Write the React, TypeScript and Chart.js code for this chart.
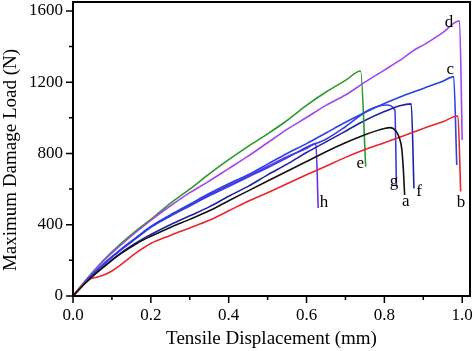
import { useEffect, useRef } from 'react';
import { Chart, registerables } from 'chart.js';

Chart.register(...registerables);

// ---- data (Tensile displacement in mm, maximum damage load in N) ----
const aX = [0, 0.04, 0.079, 0.121, 0.164, 0.2, 0.25, 0.3, 0.35, 0.4, 0.45, 0.5, 0.55, 0.6, 0.65, 0.7, 0.75, 0.8, 0.815, 0.83, 0.838, 0.845, 0.849, 0.852];
const aY = [0, 90, 163, 235, 295, 335, 385, 430, 478, 535, 590, 645, 700, 755, 810, 860, 905, 940, 945, 925, 890, 820, 700, 567];

const bX = [0, 0.02, 0.044, 0.06, 0.079, 0.1, 0.121, 0.164, 0.2, 0.25, 0.3, 0.35, 0.4, 0.45, 0.5, 0.55, 0.6, 0.65, 0.7, 0.75, 0.8, 0.85, 0.9, 0.95, 0.989, 0.996];
const bY = [0, 50, 95, 105, 118, 140, 172, 245, 295, 340, 382, 425, 478, 532, 580, 630, 680, 728, 778, 822, 860, 900, 940, 978, 1010, 586];

const cX = [0, 0.04, 0.079, 0.121, 0.164, 0.2, 0.25, 0.3, 0.35, 0.4, 0.45, 0.5, 0.55, 0.6, 0.65, 0.7, 0.75, 0.8, 0.85, 0.9, 0.95, 0.978, 0.986];
const cY = [0, 100, 180, 258, 330, 390, 455, 515, 575, 630, 680, 740, 800, 855, 915, 975, 1030, 1080, 1125, 1165, 1205, 1231, 735];

const dX = [0, 0.044, 0.079, 0.121, 0.164, 0.2, 0.25, 0.3, 0.35, 0.4, 0.45, 0.5, 0.55, 0.6, 0.65, 0.7, 0.75, 0.8, 0.85, 0.88, 0.9, 0.95, 0.993, 1.0];
const dY = [0, 115, 198, 282, 362, 425, 505, 580, 645, 715, 785, 860, 935, 1002, 1070, 1128, 1200, 1268, 1338, 1385, 1408, 1478, 1545, 876];

const eX = [0, 0.02, 0.044, 0.079, 0.121, 0.164, 0.2, 0.25, 0.3, 0.35, 0.4, 0.45, 0.5, 0.55, 0.6, 0.65, 0.7, 0.739, 0.752];
const eY = [0, 55, 118, 202, 290, 370, 430, 520, 600, 685, 765, 840, 910, 985, 1070, 1145, 1210, 1263, 726];

const fX = [0, 0.04, 0.079, 0.121, 0.164, 0.2, 0.25, 0.3, 0.35, 0.4, 0.45, 0.5, 0.55, 0.6, 0.65, 0.7, 0.75, 0.8, 0.84, 0.869, 0.876];
const fY = [0, 92, 165, 238, 300, 345, 400, 450, 500, 560, 615, 680, 740, 805, 865, 925, 985, 1035, 1068, 1078, 604];

const gX = [0, 0.04, 0.079, 0.121, 0.164, 0.2, 0.25, 0.3, 0.35, 0.4, 0.45, 0.5, 0.55, 0.6, 0.65, 0.7, 0.76, 0.805, 0.827, 0.831];
const gY = [0, 98, 178, 255, 326, 385, 448, 505, 562, 615, 668, 720, 775, 835, 880, 950, 1044, 1072, 1044, 614];

const hX = [0, 0.04, 0.079, 0.121, 0.164, 0.2, 0.25, 0.3, 0.35, 0.4, 0.45, 0.5, 0.55, 0.6, 0.624, 0.63];
const hY = [0, 100, 182, 257, 330, 388, 452, 510, 568, 622, 672, 728, 782, 828, 855, 494];

// curve labels, placed in data units
const labelText = ['a', 'b', 'c', 'd', 'e', 'f', 'g', 'h'];
const labelX = [0.855, 0.997, 0.969, 0.966, 0.738, 0.889, 0.825, 0.645];
const labelY = [505, 497, 1245, 1507, 716, 561, 617, 497];

// axis ticks
const xMajorTicks = [0, 0.2, 0.4, 0.6, 0.8, 1.0];
const xMinorTicks = [0.1, 0.3, 0.5, 0.7, 0.9];
const yMajorTicks = [0, 400, 800, 1200, 1600];
const yMinorTicks = [200, 600, 1000, 1400];

const xTitle = 'Tensile Displacement (mm)';
const yTitle = 'Maximum Damage Load (N)';

const SERIF = '"Liberation Serif", "DejaVu Serif", serif';

const seriesDefs = [
  { name: 'a', xs: aX, ys: aY, color: '#111111' },
  { name: 'b', xs: bX, ys: bY, color: '#E8262B' },
  { name: 'c', xs: cX, ys: cY, color: '#2743E8' },
  { name: 'd', xs: dX, ys: dY, color: '#A346EE' },
  { name: 'e', xs: eX, ys: eY, color: '#2A9A2A' },
  { name: 'f', xs: fX, ys: fY, color: '#1E22A4' },
  { name: 'g', xs: gX, ys: gY, color: '#3B3BE6' },
  { name: 'h', xs: hX, ys: hY, color: '#6A32EA' },
];

const framePlugin = {
  id: 'frame',
  afterDraw(chart: any) {
    const { ctx, chartArea, scales } = chart;
    const { left, right, top, bottom } = chartArea;
    const xs = scales.x;
    const ys = scales.y;
    ctx.save();
    ctx.strokeStyle = '#000';
    ctx.lineWidth = 2;
    ctx.strokeRect(left, top, right - left, bottom - top);
    ctx.lineWidth = 1.5;
    ctx.beginPath();
    const tick = (vals: number[], len: number, isX: boolean) => {
      vals.forEach((v) => {
        if (isX) {
          const p = xs.getPixelForValue(v);
          ctx.moveTo(p, bottom);
          ctx.lineTo(p, bottom + len);
        } else {
          const p = ys.getPixelForValue(v);
          ctx.moveTo(left, p);
          ctx.lineTo(left - len, p);
        }
      });
    };
    tick(xMajorTicks, 7, true);
    tick(xMinorTicks, 4, true);
    tick(yMajorTicks, 7, false);
    tick(yMinorTicks, 4, false);
    ctx.stroke();

    // curve labels
    ctx.fillStyle = '#000';
    ctx.font = `17px ${SERIF}`;
    ctx.textAlign = 'center';
    ctx.textBaseline = 'alphabetic';
    labelText.forEach((t, i) => {
      ctx.fillText(t, xs.getPixelForValue(labelX[i]), ys.getPixelForValue(labelY[i]));
    });

    // axis titles
    ctx.font = `19px ${SERIF}`;
    ctx.textBaseline = 'middle';
    ctx.fillText(xTitle, (left + right) / 2, 339);
    ctx.translate(11, 160);
    ctx.rotate(-Math.PI / 2);
    ctx.fillText(yTitle, 0, 0);
    ctx.restore();
  },
};

export default function App() {
  const ref = useRef<HTMLCanvasElement | null>(null);
  useEffect(() => {
    if (!ref.current) return;
    const chart = new Chart(ref.current, {
      type: 'line',
      data: {
        datasets: seriesDefs.map((s) => ({
          label: s.name,
          data: s.xs.map((x, i) => ({ x, y: s.ys[i] })),
          borderColor: s.color,
          backgroundColor: s.color,
          borderWidth: 1.6,
          pointRadius: 0,
          cubicInterpolationMode: 'monotone' as const,
          fill: false,
        })),
      },
      options: {
        animation: false,
        responsive: false,
        devicePixelRatio: 1,
        layout: { padding: { left: 0, right: 4, top: 2, bottom: 0 } },
        plugins: { legend: { display: false }, tooltip: { enabled: false } },
        scales: {
          x: {
            type: 'linear',
            min: 0,
            max: 1.02,
            grid: { display: false, drawTicks: false },
            border: { display: false },
            afterBuildTicks: (s: any) => {
              s.ticks = xMajorTicks.map((value) => ({ value }));
            },
            ticks: {
              padding: 9,
              color: '#000',
              font: { family: SERIF, size: 17 },
              callback: (v: any) => Number(v).toFixed(1),
            },
            afterFit: (s: any) => {
              s.height = 55;
              s.paddingLeft = 0;
              s.paddingRight = 0;
            },
          },
          y: {
            type: 'linear',
            min: 0,
            max: 1650,
            grid: { display: false, drawTicks: false },
            border: { display: false },
            afterBuildTicks: (s: any) => {
              s.ticks = yMajorTicks.map((value) => ({ value }));
            },
            ticks: {
              padding: 10,
              color: '#000',
              font: { family: SERIF, size: 17 },
              callback: (v: any) => String(v),
            },
            afterFit: (s: any) => {
              s.width = 73;
              s.paddingTop = 0;
              s.paddingBottom = 0;
            },
          },
        },
      },
      plugins: [framePlugin],
    });
    return () => chart.destroy();
  }, []);
  return (
    <div style={{ position: 'absolute', left: 0, top: 0, width: 474, height: 351, background: '#fff' }}>
      <canvas ref={ref} width={474} height={351} />
    </div>
  );
}
